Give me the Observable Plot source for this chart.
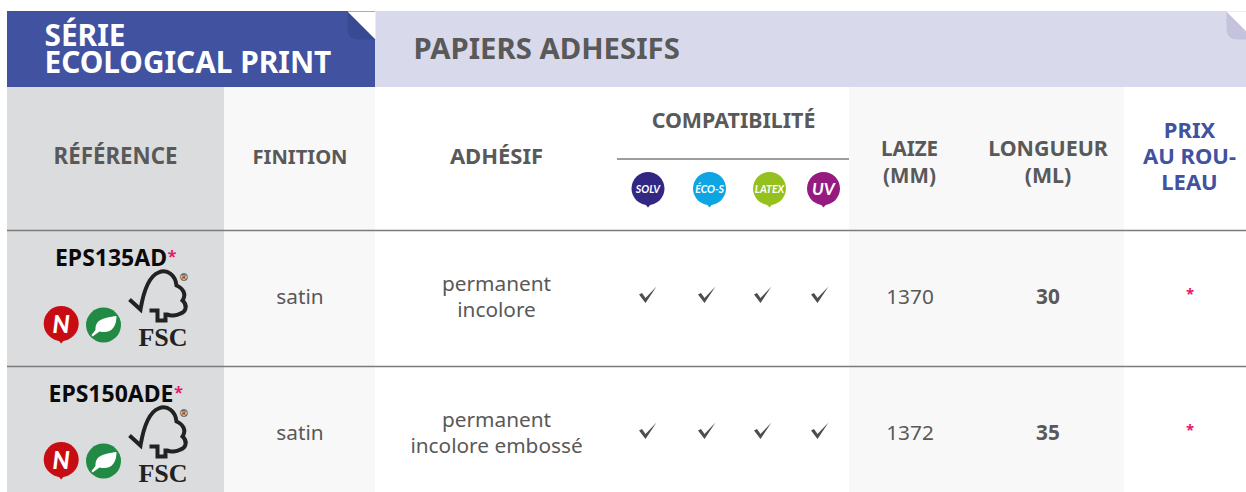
<!DOCTYPE html>
<html><head><meta charset="utf-8">
<style>html,body{margin:0;padding:0;background:#fff}svg{display:block}</style>
<script src="https://cdn.jsdelivr.net/npm/d3@7"></script>
<script src="https://cdn.jsdelivr.net/npm/@observablehq/plot@0.6"></script>
</head><body><div id="c"></div>
<script>
const title = ["SÉRIE", "ECOLOGICAL PRINT"];
const section = "PAPIERS ADHESIFS";
const headers = ["RÉFÉRENCE", "FINITION", "ADHÉSIF", "COMPATIBILITÉ", "LAIZE\n(MM)", "LONGUEUR\n(ML)", "PRIX\nAU ROU-\nLEAU"];
const inks = ["SOLV", "ÉCO-S", "LATEX", "UV"];
const inkColors = ["#322883", "#0ea5e4", "#95c11f", "#951b81"];
const references = ["EPS135AD", "EPS150ADE"];
const finishes = ["satin", "satin"];
const adhesives = ["permanent\nincolore", "permanent\nincolore embossé"];
const compatible = [[true, true, true, true], [true, true, true, true]];
const widths = ["1370", "1372"];
const lengths = ["30", "35"];
const prices = ["*", "*"];

// layout
const FONT = "'Noto Sans', sans-serif";
const GREY = "#595959";
const rowTop = [230, 366];
const inkX = [647.5, 709, 769, 823], checkX = [647, 706, 762, 819];
const bands = [
  {x1: 7, x2: 224, y1: 87, y2: 492, fill: "#dbdcde"},
  {x1: 224, x2: 375, y1: 87, y2: 492, fill: "#f8f8f8"},
  {x1: 849, x2: 1124, y1: 87, y2: 492, fill: "#f8f8f8"},
  {x1: 7, x2: 375, y1: 11, y2: 87, fill: "#4052a0"},
  {x1: 375, x2: 1246, y1: 11, y2: 87, fill: "#d9d9ec"}
];
const rows = references.map((r, i) => ({i, top: rowTop[i], r}));

const sym = draw => ({draw});
const cornerCut = sym(c => { c.moveTo(0,0); c.lineTo(28,0); c.lineTo(28,28); c.closePath(); });
const cornerFold = sym(c => { c.moveTo(0,0); c.lineTo(28,28); c.lineTo(11,28); c.quadraticCurveTo(0,28,0,17); c.closePath(); });
const tail = sym(c => { c.moveTo(-3.5,-1); c.lineTo(3.5,-1); c.lineTo(0,3); c.closePath(); });
const check = sym(c => { c.moveTo(-8.5,-1); c.lineTo(-5.5,-2.5); c.lineTo(-2,2.5); c.lineTo(9,-9); c.lineTo(-2,7.5); c.closePath(); });
const leaf = sym(c => {
  c.moveTo(-12,10); c.lineTo(-8,5); c.bezierCurveTo(-8,-6,0,-7,13,-9);
  c.bezierCurveTo(13,3,7,9,-4,6.5); c.lineTo(-11,11.5); c.closePath();
});
const tree = sym(c => {
  c.moveTo(0,32); c.lineTo(11,42); c.bezierCurveTo(14,24,19,9,29,5);
  c.bezierCurveTo(38,1,46,8,47,18); c.bezierCurveTo(54,21,57,27,53,33);
  c.bezierCurveTo(58,37,57,44,51,46); c.bezierCurveTo(47,48,41,49,38,47);
  c.lineTo(36,47); c.lineTo(36,53); c.lineTo(28,53); c.lineTo(28,43); c.lineTo(20,43);
});

const t = (text, x, y, {dy = -2, ...o} = {}) => Plot.text([text], {
  x: () => x, y: () => y + dy, text: d => d, textAnchor: "middle", fontFamily: FONT, fontSize: 20.8, fill: GREY, lineHeight: 1.25, ...o
});
const dot = (x, y, symbol, o = {}) => Plot.dot([0], {x: () => x, y: () => y, symbol, r: 5, stroke: "none", ...o});
const H = {fontWeight: 700, fontSize: 21.4};

const marks = [
  Plot.rect(bands, {x1: "x1", x2: "x2", y1: "y1", y2: "y2", fill: "fill", inset: 0}),
  // corner folds
  dot(347, 11, cornerFold, {fill: "#3a4a92"}),
  dot(347, 11, cornerCut, {fill: "#fff"}),
  dot(1226, 11, cornerFold, {fill: "#c5c2dd"}),
  dot(1226, 11, cornerCut, {fill: "#fff"}),
  // rules
  Plot.ruleY(rowTop, {x1: 7, x2: 1246, stroke: "#7c7c7c", strokeWidth: 1.4}),
  Plot.ruleY([158.5], {x1: 617, x2: 849, stroke: "#7c7c7c", strokeWidth: 1.4}),
  // banners
  t(title[0], 44, 36, {textAnchor: "start", fill: "#fff", fontWeight: 700, fontSize: 29.8}),
  t(title[1], 44, 63, {textAnchor: "start", fill: "#fff", fontWeight: 700, fontSize: 29.8}),
  t(section, 413, 49, {textAnchor: "start", fontWeight: 700, fontSize: 29.3}),
  // headers
  t(headers[0], 115, 157, {...H, fontSize: 22.3}), t(headers[1], 299.5, 157, {...H, fontSize: 20.2}), t(headers[2], 496, 157, {...H, fontSize: 22}),
  t(headers[3], 733, 121, H),
  t(headers[4], 909, 162.5, {...H, fontSize: 20.6, lineHeight: 1.31}),
  t(headers[5], 1047.5, 162.5, {...H, lineHeight: 1.26}),
  t(headers[6], 1189, 157, {...H, fontSize: 22, fill: "#4052a0", lineHeight: 1.19}),
  // ink badges
  ...inks.flatMap((k, i) => [
    dot(inkX[i], 188, d3.symbolCircle, {r: 16.5, fill: inkColors[i]}),
    dot(inkX[i], 204, tail, {fill: inkColors[i]}),
    t(k, inkX[i], 188, {dy: 0, fill: "#fff", fontWeight: 700, fontStyle: "italic", fontSize: k === "UV" ? 17 : 10.5, fontFamily: "Lato"})
  ]),
  // rows
  ...rows.flatMap(({i, top, r}) => {
    const y = d => top + d;
    const w = i === 0 ? 112 : 125;
    return [
      t(r, 110.5, y(28), {fontWeight: 700, fontSize: 23, fill: "#0a0a0a"}),
      t("*", 111 + w / 2 + 4.5, y(27), {fontWeight: 700, fontSize: 16, fill: "#e5176e"}),
      dot(60.7, y(93), d3.symbolCircle, {r: 17.5, fill: "#c70d13"}),
      dot(60.7, y(110), tail, {fill: "#c70d13"}),
      t("N", 60.7, y(93), {dy: 0, fill: "#fff", fontWeight: 900, fontStyle: "italic", fontSize: 24, fontFamily: "Lato"}),
      dot(103, y(94.5), d3.symbolCircle, {r: 17.5, fill: "#218a45"}),
      dot(103, y(94.5), leaf, {fill: "#fff"}),
      dot(129, y(37), tree, {fill: "none", stroke: "#222", strokeWidth: 4}),
      t("®", 183.5, y(46), {dy: 0, fontSize: 10, fill: "#333", fontWeight: 700}),
      t("FSC", 162.5, y(105), {dy: 0, fontFamily: "'Liberation Serif'", fontWeight: 700, fontSize: 26, fill: "#222"}),
      t(finishes[i], 299.5, y(67.5)),
      t(adhesives[i], 496, y(67), {lineHeight: 1.25}),
      ...compatible[i].map((v, j) => v ? dot(checkX[j], y(65), check, {fill: "#4d4d4d"}) : null),
      t(widths[i], 909.5, y(67.5)),
      t(lengths[i], 1047.5, y(67.5), {fontWeight: 700}),
      t(prices[i], 1189.5, y(64), {fontWeight: 700, fontSize: 15, fill: "#e5176e"})
    ];
  })
];

document.getElementById("c").append(Plot.plot({
  width: 1246, height: 492, margin: 0,
  x: {domain: [0, 1246], range: [0, 1246], axis: null},
  y: {domain: [0, 492], range: [0, 492], axis: null},
  style: {background: "#fff"},
  marks
}));
</script></body></html>
